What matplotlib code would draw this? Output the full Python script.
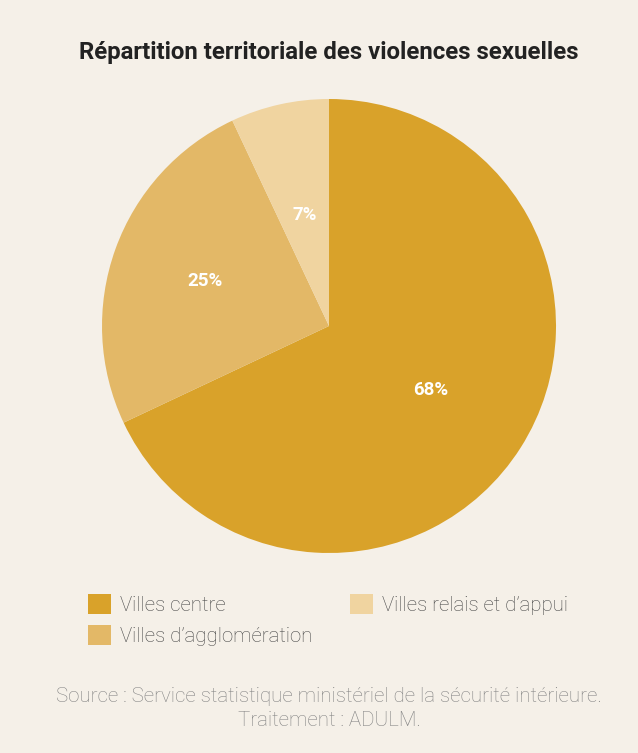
import matplotlib
matplotlib.use("Agg")
import matplotlib.pyplot as plt
import numpy as np

plt.rcParams["font.family"] = ["Roboto", "DejaVu Sans"]

# données
categories = ["Villes centre", "Villes d\u2019agglomération", "Villes relais et d\u2019appui"]
parts = [68, 25, 7]
colors = ["#D9A22A", "#E3B867", "#F0D4A0"]
label_dist = [0.53, 0.58, 0.50]   # distance des étiquettes au centre (en rayon)

bg = "#F5F0E8"

fig = plt.figure(figsize=(6.38, 7.53), dpi=100, facecolor=bg)
ax = fig.add_axes([102 / 638, 1 - 553 / 753, 454 / 638, 454 / 753])
ax.set_facecolor(bg)

wedges, texts, autotexts = ax.pie(
    parts, colors=colors, startangle=90, counterclock=False,
    autopct=lambda p: f"{p:.0f}%", pctdistance=0.54,
    wedgeprops=dict(linewidth=0),
    textprops=dict(color="white", fontsize=13.5, fontweight="bold"),
)
# repositionne chaque pourcentage
for w, t, d in zip(wedges, autotexts, label_dist):
    ang = np.deg2rad((w.theta1 + w.theta2) / 2)
    t.set_position((d * np.cos(ang), d * np.sin(ang)))

ax.set_xlim(-1, 1)
ax.set_ylim(-1, 1)
ax.set_aspect("equal")

fig.text(329 / 638, 1 - 53 / 753, "Répartition territoriale des violences sexuelles",
         ha="center", va="center", fontsize=17.3, fontweight="bold", color="#222222")

fs = 14.7
fig.legend(wedges, categories, ncol=2, loc="upper left",
           bbox_to_anchor=(88 / 638, 1 - 594 / 753), frameon=False,
           borderpad=0, borderaxespad=0,
           handlelength=1.13, handleheight=1.13,
           handletextpad=0.44, columnspacing=1.85, labelspacing=0.5,
           labelcolor="#474747",
           prop=dict(family=["Roboto", "DejaVu Sans"], weight="light", size=fs))

fig.text(329 / 638, 1 - 697 / 753,
         "Source : Service statistique ministériel de la sécurité intérieure.",
         ha="center", va="center", fontsize=14.8, fontweight="light", color="#838383")
fig.text(329 / 638, 1 - 720 / 753, "Traitement : ADULM.",
         ha="center", va="center", fontsize=14.8, fontweight="light", color="#838383")

fig.savefig("out.png", dpi=100, facecolor=bg)
